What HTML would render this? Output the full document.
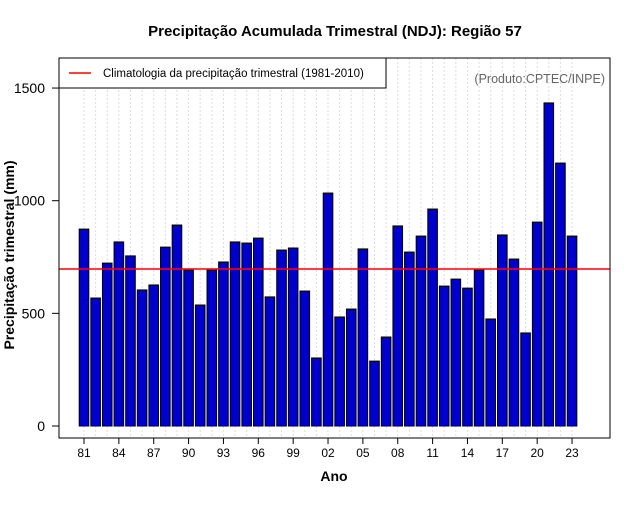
<!DOCTYPE html>
<html><head><meta charset="utf-8"><style>
body{margin:0;background:#fff;}
svg text{font-family:"Liberation Sans",sans-serif;}
</style></head><body>
<svg id="chart" width="640" height="500" xmlns="http://www.w3.org/2000/svg">
<rect width="640" height="500" fill="#fff"/>
<text x="335" y="36" text-anchor="middle" font-size="15" font-weight="bold">Precipitação Acumulada Trimestral (NDJ): Região 57</text>
<g id="grid"></g>
<g id="bars"></g>
<g id="axes"></g>
<rect x="59" y="58" width="551" height="380" fill="none" stroke="#000"/>
<g>
<rect x="59" y="58" width="327" height="30" fill="#fff" stroke="#000"/>
<line x1="69" y1="73" x2="91" y2="73" stroke="red" stroke-width="1.5"/>
<text x="103" y="77" font-size="11.5">Climatologia da precipitação trimestral (1981-2010)</text>
</g>
<text x="605" y="83" text-anchor="end" font-size="12.5" fill="#666">(Produto:CPTEC/INPE)</text>
<text x="334" y="481" text-anchor="middle" font-size="14" font-weight="bold">Ano</text>
<text transform="translate(14,255) rotate(-90)" text-anchor="middle" font-size="14" font-weight="bold">Precipitação trimestral (mm)</text>
</svg>
<script>
const years=[1981,1982,1983,1984,1985,1986,1987,1988,1989,1990,1991,1992,1993,1994,1995,1996,1997,1998,1999,2000,2001,2002,2003,2004,2005,2006,2007,2008,2009,2010,2011,2012,2013,2014,2015,2016,2017,2018,2019,2020,2021,2022,2023];
const values=[874,568,723,817,755,604,626,794,892,692,537,692,728,817,812,834,573,781,790,599,302,1034,484,519,786,288,395,888,772,843,963,621,652,612,692,475,848,741,413,905,1434,1167,843];
const climatology=[697];
const yTicks=[0,500,1000,1500];
const xTickYears=[1981,1984,1987,1990,1993,1996,1999,2002,2005,2008,2011,2014,2017,2020,2023];
const NS="http://www.w3.org/2000/svg";
const xScale=y=>84+(y-1981)*11.62;
const yScale=v=>426-v*0.2253;
function mk(tag,attrs,parent){const e=document.createElementNS(NS,tag);for(const k in attrs)e.setAttribute(k,attrs[k]);parent.appendChild(e);return e;}
const grid=document.getElementById('grid'),bars=document.getElementById('bars'),axes=document.getElementById('axes');
years.forEach((yr,i)=>{
 const g=mk('line',{x1:xScale(yr),x2:xScale(yr),y1:58,y2:438,stroke:'#ddd','stroke-dasharray':'2,2'},grid);
 
 
 const top=yScale(values[i]);
 const b=mk('rect',{x:xScale(yr)-4.8,y:top,width:9.6,height:426-top,fill:'#0000CD',stroke:'#000','stroke-width':1},bars);
 
 
});
const cl=mk('line',{x1:59,x2:610,y1:yScale(climatology[0]),y2:yScale(climatology[0]),stroke:'red','stroke-width':1.5},bars);


yTicks.forEach(v=>{
 const t=mk('line',{x1:52,x2:59,y1:yScale(v),y2:yScale(v),stroke:'#000'},axes);
 
 
 const l=mk('text',{x:45,y:yScale(v)+5,'text-anchor':'end','font-size':'14'},axes);
 l.textContent=v;
 
 
});
xTickYears.forEach(yr=>{
 const t=mk('line',{x1:xScale(yr),x2:xScale(yr),y1:438,y2:444,stroke:'#000'},axes);
 
 
 const l=mk('text',{x:xScale(yr),y:457,'text-anchor':'middle','font-size':'12'},axes);
 l.textContent=String(yr%100).padStart(2,'0');
 
 
});
</script>
</body></html>
